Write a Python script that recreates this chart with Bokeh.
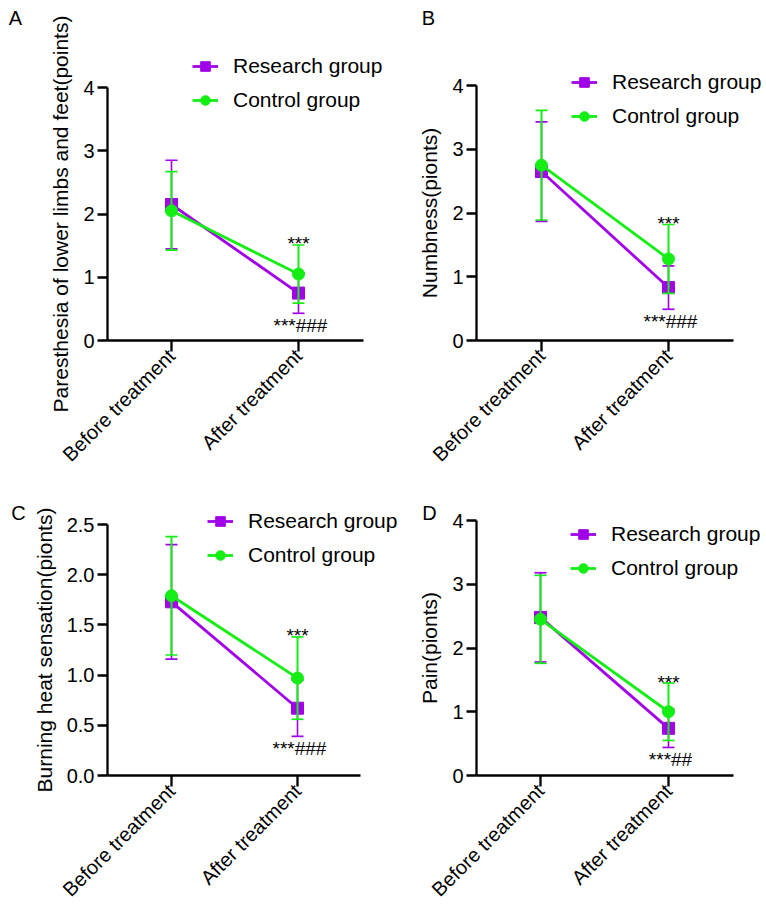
import math
from bokeh.plotting import figure
from bokeh.models import (Range1d, FixedTicker, Legend, LegendItem, Label,
                          PrintfTickFormatter, ColumnDataSource)
from bokeh.layouts import column, row
from bokeh.embed import file_html
from bokeh.resources import INLINE
from bokeh.core.properties import value

# ---------------- data ----------------
groups = ["Before treatment", "After treatment"]
series_names = ["Research group", "Control group"]

a_research_mean = [2.15, 0.75]
a_research_sd = [0.70, 0.32]
a_control_mean = [2.05, 1.05]
a_control_sd = [0.62, 0.46]

b_research_mean = [2.65, 0.83]
b_research_sd = [0.78, 0.34]
b_control_mean = [2.75, 1.28]
b_control_sd = [0.86, 0.54]

c_research_mean = [1.73, 0.67]
c_research_sd = [0.57, 0.28]
c_control_mean = [1.79, 0.97]
c_control_sd = [0.59, 0.41]

d_research_mean = [2.48, 0.74]
d_research_sd = [0.70, 0.30]
d_control_mean = [2.45, 1.00]
d_control_sd = [0.69, 0.45]

y_ticks_4 = [0, 1, 2, 3, 4]
y_ticks_25 = [0.0, 0.5, 1.0, 1.5, 2.0, 2.5]

panel_letters = ["A", "B", "C", "D"]
y_labels = ["Paresthesia of lower limbs and feet(points)", "Numbness(pionts)",
            "Burning heat sensation(pionts)", "Pain(pionts)"]
top_marks = ["***", "***", "***", "***"]
bottom_marks = ["***###", "***###", "***###", "***##"]

# category positions on the x scale (one slot per group)
x_pos = [i + 1 for i in range(len(groups))]

# ---------------- style ----------------
FONT = "Liberation Sans"
PURPLE = "#A100E8"
GREEN = "#14EE14"


def make_panel(letter, ylabel, y_max, ticks, fmt, r_mean, r_sd, c_mean, c_sd,
               top_mark, bottom_mark, geom):
    # geometry in pixels inside the figure: width, height, axis left/right,
    # category pixel centres, pixel of y=0 and y=max, legend and letter positions
    (W, H, L, R, c1, c2, yb, yt, leg_xy, let_xy) = geom
    kx = (c2 - c1) / (x_pos[1] - x_pos[0])
    x_start = x_pos[0] - c1 / kx
    x_end = x_pos[0] + (W - c1) / kx
    x_axis_left = x_pos[0] + (L - c1) / kx
    x_axis_right = x_pos[0] + (R - c1) / kx
    ky = (yb - yt) / y_max
    y_start = -(H - yb) / ky
    y_end = yb / ky

    p = figure(width=W, height=H, x_range=Range1d(x_start, x_end),
               y_range=Range1d(y_start, y_end), output_backend="svg",
               toolbar_location=None, min_border=0, title=None)
    p.outline_line_color = None
    p.xgrid.visible = False
    p.ygrid.visible = False
    p.background_fill_color = "white"

    for ax in (p.xaxis[0], p.yaxis[0]):
        ax.axis_line_width = 2.3
        ax.axis_line_color = "black"
        ax.major_tick_line_width = 2.3
        ax.major_tick_line_color = "black"
        ax.major_tick_in = 0
        ax.minor_tick_line_color = None
        ax.major_label_text_font = FONT
        ax.major_label_text_font_size = "20px"
        ax.major_label_text_color = "black"

    xa = p.xaxis[0]
    xa.fixed_location = 0
    xa.bounds = (x_axis_left, x_axis_right)
    xa.ticker = FixedTicker(ticks=x_pos)
    xa.major_label_overrides = {x: g for x, g in zip(x_pos, groups)}
    xa.major_tick_out = 11
    xa.major_label_orientation = math.pi / 4
    xa.major_label_standoff = 1

    ya = p.yaxis[0]
    ya.fixed_location = x_axis_left
    ya.bounds = (0, y_max)
    ya.major_tick_out = 10
    ya.major_label_standoff = 3
    ya.ticker = FixedTicker(ticks=ticks)
    if fmt:
        ya.formatter = PrintfTickFormatter(format=fmt)
    ya.axis_label = ylabel
    ya.axis_label_text_font = FONT
    ya.axis_label_text_font_size = "21px"
    ya.axis_label_text_font_style = "normal"
    ya.axis_label_text_color = "black"
    ya.axis_label_standoff = 8

    items = []
    specs = [(r_mean, r_sd, PURPLE, "square", 12, series_names[0], 1.6),
             (c_mean, c_sd, GREEN, "circle", 12, series_names[1], 2.0)]
    uppers = {}
    lowers = {}
    for mean, sd, col, mk, size, name, ew in specs:
        upper = [m + s for m, s in zip(mean, sd)]
        lower = [m - s for m, s in zip(mean, sd)]
        uppers[name] = upper
        lowers[name] = lower
        src = ColumnDataSource(dict(x=x_pos, m=mean, up=upper, lo=lower))
        p.segment(x0="x", y0="lo", x1="x", y1="up", source=src, line_color=col, line_width=ew)
        p.scatter(x="x", y="up", source=src, marker="dash", size=12, line_color=col, line_width=1.7)
        p.scatter(x="x", y="lo", source=src, marker="dash", size=12, line_color=col, line_width=1.7)
        lr = p.line(x="x", y="m", source=src, line_color=col, line_width=2.8)
        sr = p.scatter(x="x", y="m", source=src, marker=mk, size=size, fill_color=col,
                       line_color=col)
        items.append(LegendItem(label=name, renderers=[lr, sr]))

    legend = Legend(items=items, location=leg_xy, padding=0, margin=0,
                    border_line_alpha=0, background_fill_alpha=0,
                    glyph_width=26, glyph_height=24, label_height=24, spacing=10,
                    label_standoff=15, label_text_font=FONT, label_text_font_size="21px",
                    label_text_color="black")
    p.add_layout(legend, "center")

    p.text(x=[x_pos[1]], y=[uppers[series_names[1]][1]], text=[top_mark],
           text_align="center", text_baseline="alphabetic", y_offset=-1,
           text_font=value(FONT), text_font_size="19px", text_color="black")
    p.text(x=[x_pos[1]], y=[lowers[series_names[0]][1]], text=[bottom_mark],
           text_align="center", text_baseline="top", y_offset=2, x_offset=2,
           text_font=value(FONT), text_font_size="19px", text_color="black")

    p.add_layout(Label(x=let_xy[0], y=let_xy[1], x_units="screen", y_units="screen",
                       text=letter, text_align="center", text_baseline="middle",
                       text_font=FONT, text_font_size="20px", text_color="black"))
    return p


geoms = [
    (400, 474, 107, 363, 171, 298, 340, 87, (192, 362), (15, 457)),
    (366, 474, 76, 333, 141, 268, 340, 85, (171, 346), (28, 457)),
    (400, 442, 107, 360, 171, 297, 301, 50, (207, 349), (18, 404)),
    (366, 442, 76, 333, 140, 268, 301, 46, (170, 336), (29, 404)),
]

pa = make_panel(panel_letters[0], y_labels[0], 4, y_ticks_4, None,
                a_research_mean, a_research_sd, a_control_mean, a_control_sd,
                top_marks[0], bottom_marks[0], geoms[0])
pb = make_panel(panel_letters[1], y_labels[1], 4, y_ticks_4, None,
                b_research_mean, b_research_sd, b_control_mean, b_control_sd,
                top_marks[1], bottom_marks[1], geoms[1])
pc = make_panel(panel_letters[2], y_labels[2], 2.5, y_ticks_25, "%.1f",
                c_research_mean, c_research_sd, c_control_mean, c_control_sd,
                top_marks[2], bottom_marks[2], geoms[2])
pd_ = make_panel(panel_letters[3], y_labels[3], 4, y_ticks_4, None,
                 d_research_mean, d_research_sd, d_control_mean, d_control_sd,
                 top_marks[3], bottom_marks[3], geoms[3])

layout = column(row(pa, pb), row(pc, pd_))
open("out.html", "w").write(file_html(layout, INLINE))
